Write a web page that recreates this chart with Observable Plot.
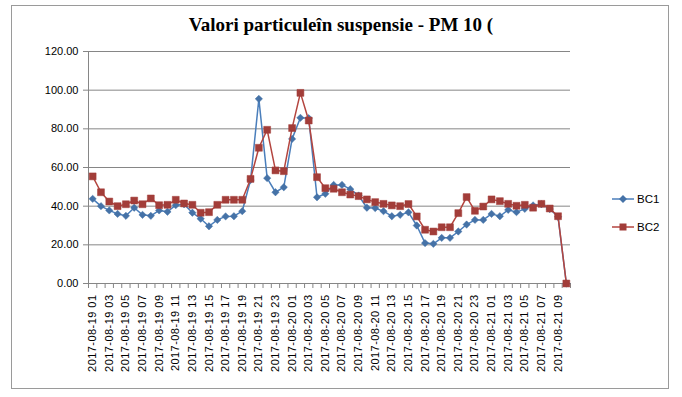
<!DOCTYPE html>
<html><head><meta charset="utf-8">
<script src="https://cdn.jsdelivr.net/npm/d3@7"></script>
<script src="https://cdn.jsdelivr.net/npm/@observablehq/plot@0.6"></script>
<style>
body{margin:0;background:#fff;}
#wrap{position:relative;width:682px;height:397px;overflow:hidden;font-family:"Liberation Sans",Arial,sans-serif;background:#fff;}
#border{position:absolute;left:11px;top:5px;width:658px;height:384px;border:1px solid #9a9a9a;box-sizing:border-box;}
#title{position:absolute;left:0;width:682px;top:14px;line-height:22px;text-align:center;font-family:"Liberation Serif","Times New Roman",serif;font-weight:bold;font-size:19px;color:#000;}
#chart{position:absolute;left:0;top:0;}
.leg{position:absolute;left:612px;height:16px;font-size:11.5px;color:#000;display:flex;align-items:center;}
.leg svg{margin-right:3px;}
#chart svg [aria-label="x-axis tick label"] text{letter-spacing:0.45px;}
</style></head>
<body>
<div id="wrap">
  <div id="border"></div>
  <div id="title">Valori particuleîn suspensie - PM 10 (</div>
  <div id="chart"></div>
  <div class="leg" style="top:191px"><svg width="22" height="10"><line x1="0" y1="5" x2="22" y2="5" stroke="#4A7EBB" stroke-width="1.5"/><path d="M11,1 L15,5 L11,9 L7,5 Z" fill="#4572A7"/></svg>BC1</div>
  <div class="leg" style="top:219px"><svg width="22" height="10"><line x1="0" y1="5" x2="22" y2="5" stroke="#B4453F" stroke-width="1.5"/><rect x="7.5" y="1.5" width="7" height="7" fill="#A23D39"/></svg>BC2</div>
</div>
<script>
// categories: hourly readings
const days = ["2017-08-19", "2017-08-20", "2017-08-21"];
const hoursPerDay = [24, 24, 10];
const categories = [];
days.forEach((d, k) => { for (let h = 1; h <= hoursPerDay[k]; h++) categories.push(`${d} ${String(h).padStart(2, "0")}`); });

const seriesNames = ["BC1", "BC2"];
const bc1 = [43.8, 40.0, 37.8, 36.0, 35.0, 39.2, 35.5, 35.0, 37.8, 37.1,
             40.5, 41.0, 36.6, 33.5, 29.6, 32.9, 34.7, 34.8, 37.4, 53.5,
             95.5, 54.5, 47.2, 49.8, 74.8, 85.7, 85.5, 44.6, 46.4, 51.0,
             51.0, 48.8, 45.5, 39.2, 39.0, 37.4, 34.8, 35.5, 36.8, 30.0,
             20.9, 20.5, 23.6, 23.6, 26.9, 30.5, 32.9, 32.9, 36.0, 34.8,
             38.1, 36.9, 38.6, 40.4, 41.0, 38.5, 34.5, 0];
const bc2 = [55.4, 47.2, 42.4, 40.0, 41.0, 42.9, 41.0, 44.0, 40.5, 40.7,
             43.3, 41.4, 40.7, 36.6, 36.9, 40.7, 43.3, 43.3, 43.3, 54.1,
             70.2, 79.5, 58.5, 58.1, 80.4, 98.6, 84.3, 55.0, 49.3, 49.0,
             47.2, 46.0, 45.2, 43.5, 42.1, 41.2, 40.4, 40.0, 41.1, 34.7,
             27.8, 26.9, 29.1, 29.1, 36.4, 44.7, 37.6, 39.8, 43.5, 42.6,
             41.2, 40.2, 40.7, 39.2, 41.2, 38.8, 34.8, 0];
const yTicks = [0, 20, 40, 60, 80, 100, 120];

const n = categories.length;
const rows1 = categories.map((c, i) => ({i, c, v: bc1[i]}));
const rows2 = categories.map((c, i) => ({i, c, v: bc2[i]}));
const labelIdx = d3.range(0, n, 2);
const boundaries = d3.range(-0.5, n, 1);

const chart = Plot.plot({
  width: 682, height: 397,
  marginLeft: 88, marginRight: 112, marginTop: 51, marginBottom: 114,
  x: {type: "linear", domain: [-0.5, n - 0.5], axis: null, label: null},
  y: {domain: [0, 120], axis: null, label: null},
  style: {background: "transparent", fontFamily: "'Liberation Sans', Arial, sans-serif", fontSize: "11px", color: "#000"},
  marks: [
    Plot.gridY(yTicks, {stroke: "#868686", strokeOpacity: 1}),
    Plot.ruleX([-0.5], {stroke: "#868686"}),
    Plot.ruleY([0], {stroke: "#868686"}),
    Plot.axisY({ticks: yTicks, tickFormat: d => d.toFixed(2), tickSize: 5, tickPadding: 5, stroke: "#868686", fill: "#000", fontSize: 11, label: null}),
    Plot.axisX({ticks: boundaries, tickFormat: () => "", tickSize: 5, stroke: "#868686", label: null}),
    Plot.axisX({ticks: labelIdx, tickFormat: i => categories[i], tickRotate: -90, tickSize: 0, tickPadding: 11, fill: "#000", fontSize: 11, label: null}),
    Plot.line(rows1, {x: "i", y: "v", stroke: "#4A7EBB", strokeWidth: 1.5}),
    Plot.dot(rows1, {x: "i", y: "v", symbol: "diamond2", r: 3.3, fill: "#4572A7", stroke: "#4572A7", strokeWidth: 0.5}),
    Plot.line(rows2, {x: "i", y: "v", stroke: "#B4453F", strokeWidth: 1.5}),
    Plot.dot(rows2, {x: "i", y: "v", symbol: "square", r: 3.9, fill: "#A23D39", stroke: "#A23D39", strokeWidth: 0.5})
  ]
});
document.getElementById("chart").appendChild(chart);
</script>
</body></html>
